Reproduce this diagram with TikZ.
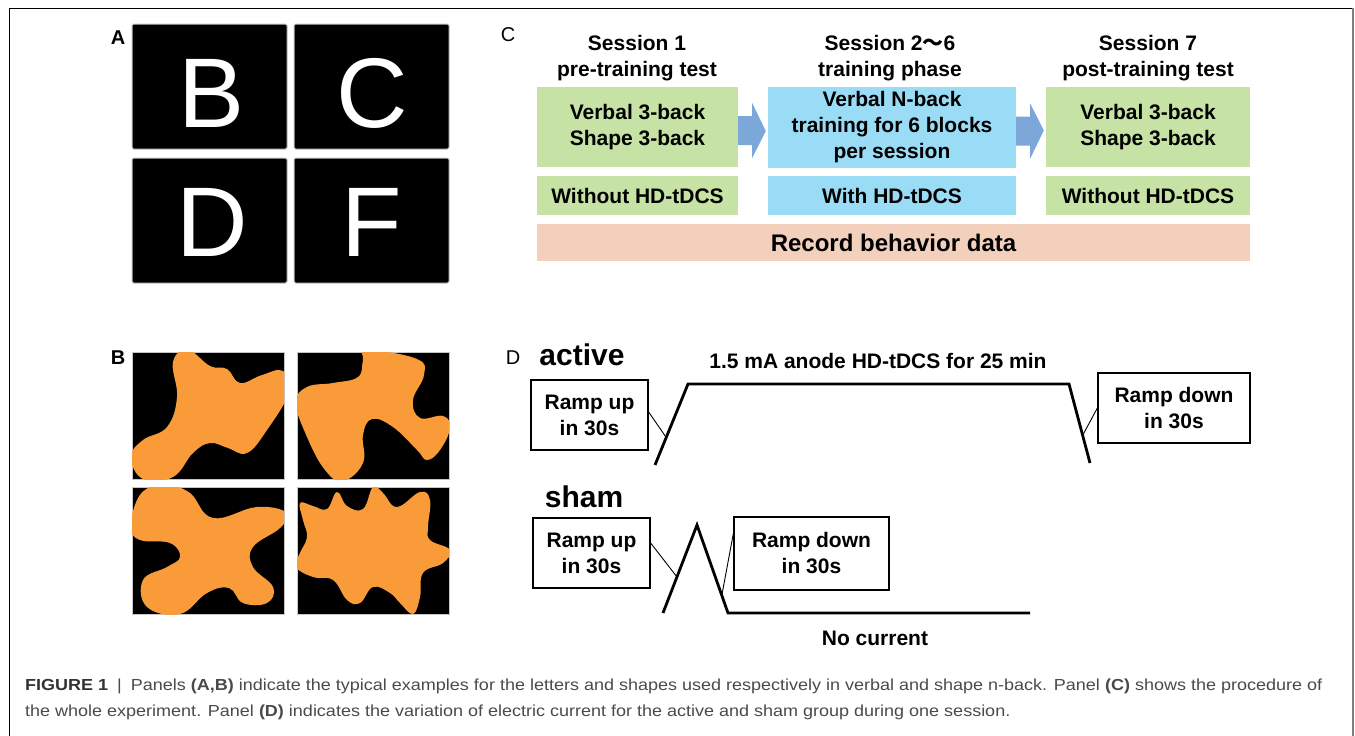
\documentclass[tikz,border=0pt]{standalone}
\usepackage{fontspec}
\setmainfont{Liberation Sans}
\setsansfont{Liberation Sans}
\newfontfamily\cjk{Noto Sans CJK SC}
\usepackage{graphicx}
\usepackage{tikz}
\usetikzlibrary{positioning,calc}
\usepackage{xcolor}

\definecolor{boxgreen}{HTML}{C6E2A5}
\definecolor{boxblue}{HTML}{9ADCF5}
\definecolor{boxpeach}{HTML}{F2D0BC}
\definecolor{arrowblue}{HTML}{7BA7D9}
\definecolor{blobcol}{HTML}{F99B38}
\definecolor{capgray}{HTML}{4A4A4A}

\newcommand{\capline}[1]{\scalebox{1.125}[1]{#1}}

\begin{document}
\begin{tikzpicture}[x=1pt, y=-1pt,
        every node/.style = {inner sep=0pt, align=center,
            font=\fontsize{21}{26}\selectfont\bfseries},
        tile/.style = {fill=black, draw=gray!45, line width=1pt, rounded corners=1.5pt},
        letter/.style = {text=white, font=\fontsize{99}{99}\selectfont\mdseries},
        panel/.style = {font=\fontsize{20}{20}\selectfont\bfseries},
        greenbox/.style = {fill=boxgreen, minimum height=80pt},
        bluebox/.style = {fill=boxblue, minimum height=81pt},
        rampbox/.style = {draw, line width=1.3pt},
        wave/.style = {line width=2.8pt, line join=miter},
        leader/.style = {line width=0.9pt},
        group/.style = {font=\fontsize{30}{30}\selectfont\bfseries},
        caption/.style = {anchor=west, text=capgray,
            font=\fontsize{16}{18}\selectfont\mdseries}
        ]
        \useasboundingbox (0,0) rectangle (1355,736);
        % frame
        \draw[line width=1pt] (9,740) -- (9,8) -- (1353,8);
        \draw[gray, line width=1.5pt] (1353,8) -- (1353,740);

        % panel A: letters
        \node[panel] (labA) at (118,38) {A};
        \draw[tile] (132,24) rectangle (287,149);
        \draw[tile] (294,24) rectangle (449,149);
        \draw[tile] (132,158) rectangle (287,283);
        \draw[tile] (294,158) rectangle (449,283);
        \node[letter] (letB) at (212,93) {B};
        \node[letter] (letC) at (372,93) {C};
        \node[letter] (letD) at (212,222) {D};
        \node[letter] (letF) at (372,222) {F};

        % panel B: shapes
        \node[panel] (labB) at (118,358) {B};
        \foreach \x/\y in {132/352, 297/352, 132/487, 297/487}
            \draw[tile, rounded corners=0pt] (\x,\y) rectangle ++(152,127);
        \begin{scope}
            \clip (132,352) rectangle (284,479);
            \fill[blobcol] plot[smooth cycle, tension=0.7] coordinates {
                (188,350) (210,366) (227,369) (240,383) (262,375) (283,371)
                (289,392) (267,430) (247,453) (228,448) (210,443) (193,453)
                (173,477) (143,479) (131,457) (143,440) (167,427) (177,397)
                (173,362)};
        \end{scope}
        \begin{scope}
            \clip (297,352) rectangle (449,479);
            \fill[blobcol] plot[smooth cycle, tension=0.7] coordinates {
                (367,350) (417,359) (424,375) (413,400) (420,418) (443,416)
                (450,428) (440,450) (427,460) (417,450) (393,427) (372,419)
                (363,435) (363,463) (343,481) (325,470) (307,437) (296,403)
                (307,387) (333,383) (358,377) (363,360)};
        \end{scope}
        \begin{scope}
            \clip (132,487) rectangle (284,614);
            \fill[blobcol] plot[smooth cycle, tension=0.7] coordinates {
                (167,485) (190,493) (213,518) (257,507) (287,513) (280,528)
                (253,547) (253,567) (273,587) (267,603) (243,603) (229,588)
                (207,593) (180,614) (147,607) (143,580) (167,567) (180,557)
                (170,543) (140,540) (131,527) (137,500) (150,487)};
        \end{scope}
        \begin{scope}
            \clip (297,487) rectangle (449,614);
            \fill[blobcol] plot[smooth cycle, tension=0.7] coordinates {
                (300,503) (313,506) (327,509) (337,492) (347,506) (363,509)
                (373,487) (383,493) (397,507) (420,492) (430,500) (428,527)
                (430,540) (450,550) (443,563) (423,573) (420,597) (413,614)
                (400,603) (390,593) (373,587) (360,603) (347,600) (333,580)
                (313,577) (296,567) (300,553) (307,537) (303,520)};
        \end{scope}

        % panel C: procedure
        \node[panel, font=\fontsize{20}{20}\selectfont] (labC) at (508,35) {C};
        \node (head1) at (637,58) {Session 1\\pre-training test};
        \node (head2) at (890,58) {Session 2{\cjk ～}6\\training phase};
        \node (head3) at (1148,58) {Session 7\\post-training test};
        \node[greenbox, minimum width=201pt] (pre) at (637.5,127)
            {Verbal 3-back\\Shape 3-back};
        \node[bluebox, minimum width=248pt] (train) at (892,127.5)
            {Verbal N-back\\training for 6 blocks\\per session};
        \node[greenbox, minimum width=204pt] (post) at (1148,127)
            {Verbal 3-back\\Shape 3-back};
        \node[fill=boxgreen, minimum width=201pt, minimum height=39pt] (preS)
            at (637.5,195.5) {Without HD-tDCS};
        \node[fill=boxblue, minimum width=248pt, minimum height=39pt] (trainS)
            at (892,195.5) {With HD-tDCS};
        \node[fill=boxgreen, minimum width=204pt, minimum height=39pt] (postS)
            at (1148,195.5) {Without HD-tDCS};
        \node[fill=boxpeach, minimum width=713pt, minimum height=37pt,
            font=\fontsize{24}{24}\selectfont\bfseries] (record)
            at (893.5,242.5) {Record behavior data};
        \foreach \a/\b in {pre/train, train/post}
            \fill[arrowblue] ($(\a.east)+(0,-11)$) -- ++(14,0) -- ++(0,-13)
                -- ($(\b.west)+(-2,3.5)$) -- ($(\a.east)+(14,31)$) -- ++(0,-13)
                -- ($(\a.east)+(0,18)$) -- cycle;

        % panel D: current
        \node[panel, font=\fontsize{20}{20}\selectfont] (labD) at (513,358) {D};
        \node[group] (active) at (582,355) {active};
        \node (level) at (878,361) {1.5 mA anode HD-tDCS for 25 min};
        \node[rampbox, minimum width=117pt, minimum height=70pt] (upA)
            at (589.5,415) {Ramp up\\in 30s};
        \node[rampbox, minimum width=152pt, minimum height=70pt] (downA)
            at (1174,408) {Ramp down\\in 30s};
        \coordinate (a0) at (655,465);
        \coordinate (a1) at (688,384);
        \coordinate (a2) at (1069,384);
        \coordinate (a3) at (1090,463);
        \draw[wave] (a0) -- (a1) -- (a2) -- (a3);
        \draw[leader] ($(upA.east)+(0,-3)$) -- ($(a0)!0.34!(a1)$);
        \draw[leader] (downA.west) -- ($(a2)!0.65!(a3)$);

        \node[group] (sham) at (584,497) {sham};
        \node[rampbox, minimum width=117pt, minimum height=70pt] (upS)
            at (591.5,553) {Ramp up\\in 30s};
        \node[rampbox, minimum width=155pt, minimum height=73pt] (downS)
            at (811.5,553.5) {Ramp down\\in 30s};
        \coordinate (s0) at (663,613);
        \coordinate (s1) at (697,525);
        \coordinate (s2) at (728,613);
        \coordinate (s3) at (1030,613);
        \draw[wave] (s0) -- (s1) -- (s2) -- (s3);
        \draw[leader] ($(upS.east)+(0,-10)$) -- ($(s0)!0.41!(s1)$);
        \draw[leader] ($(downS.west)+(0,-20)$) -- ($(s1)!0.8!(s2)$);
        \node (none) at (875,638) {No current};

        % caption
        \node[caption] (cap1) at (25,686) {\capline{\textcolor{black!80}{\bfseries FIGURE 1}\enspace|\enspace Panels
            \textbf{(A,B)} indicate the typical examples for the letters and shapes used
            respectively in verbal and shape n-back. Panel \textbf{(C)} shows the procedure of}};
        \node[caption] (cap2) at (25,712) {\capline{the whole experiment. Panel \textbf{(D)} indicates the
            variation of electric current for the active and sham group during one session.}};
\end{tikzpicture}
\end{document}
